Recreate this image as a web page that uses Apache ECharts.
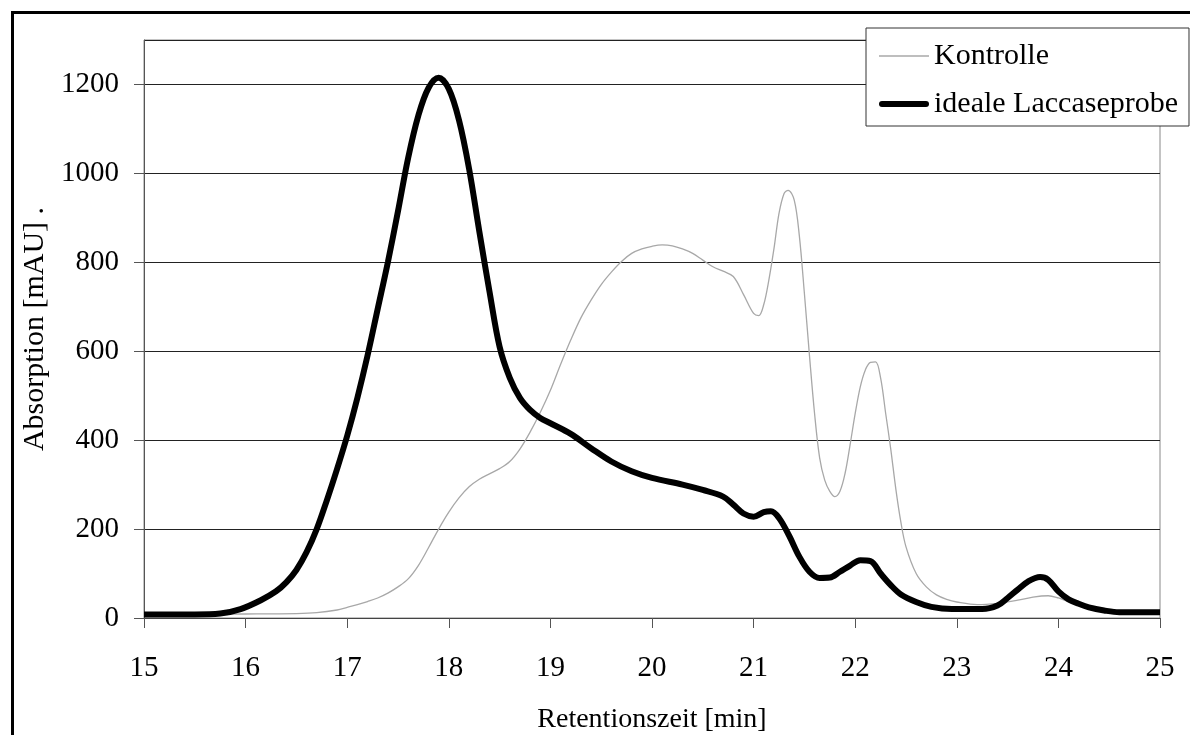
<!DOCTYPE html>
<html>
<head>
<meta charset="utf-8">
<script src="https://cdn.jsdelivr.net/npm/echarts@6/dist/echarts.min.js"></script>
<style>
html,body{margin:0;padding:0;background:#fff;}
#chart{width:1190px;height:735px;}
</style>
</head>
<body>
<div id="chart"></div>
<script>
// Retention time [min] and absorption [mAU]
const seriesNames = ['Kontrolle', 'ideale Laccaseprobe'];

const kontrolleTime = [15.0,16.0,16.5,16.7,16.9,17.0,17.1,17.2,17.3,17.4,17.5,17.6,17.7,17.8,17.9,18.0,18.1,18.2,18.3,18.4,18.5,18.6,18.7,18.8,18.9,19.0,19.1,19.2,19.3,19.4,19.5,19.6,19.7,19.8,19.9,20.0,20.1,20.2,20.3,20.4,20.5,20.6,20.7,20.8,20.9,21.0,21.05,21.1,21.15,21.2,21.25,21.3,21.34,21.4,21.45,21.5,21.55,21.6,21.65,21.7,21.75,21.8,21.85,21.9,21.95,22.0,22.05,22.1,22.15,22.2,22.25,22.3,22.35,22.4,22.45,22.5,22.6,22.7,22.8,22.9,23.0,23.2,23.4,23.6,23.75,23.9,24.0,24.1,24.3,24.6,25.0];
const kontrolleValue = [8,9,10,12,18,24,30,37,45,56,70,88,118,158,200,238,270,295,312,324,336,352,380,418,462,512,570,625,675,715,750,778,802,820,830,836,839,837,830,820,805,790,780,768,728,685,680,705,760,830,910,955,962,940,860,730,590,460,360,310,285,273,285,325,390,460,520,558,575,576,540,460,380,290,215,160,100,70,52,42,36,30,33,40,47,50,45,37,25,16,14];

const laccaseTime = [15.0,15.5,15.75,15.95,16.15,16.3,16.4,16.5,16.6,16.7,16.8,16.9,17.0,17.1,17.2,17.3,17.4,17.5,17.6,17.7,17.8,17.9,18.0,18.1,18.2,18.3,18.4,18.5,18.6,18.7,18.8,18.9,19.0,19.2,19.4,19.6,19.8,20.0,20.3,20.5,20.7,20.8,20.9,21.0,21.1,21.17,21.25,21.35,21.45,21.55,21.65,21.75,21.85,21.95,22.05,22.15,22.25,22.35,22.45,22.6,22.75,22.95,23.25,23.4,23.5,23.6,23.7,23.82,23.9,24.0,24.1,24.2,24.3,24.45,24.6,25.0];
const laccaseValue = [8,8,10,20,40,60,80,108,148,200,265,335,410,495,590,695,800,915,1035,1130,1192,1215,1190,1120,1010,870,735,610,540,495,468,450,438,414,382,352,330,315,300,288,273,255,235,228,238,240,225,185,138,104,90,91,104,118,130,128,100,74,53,36,25,20,20,28,45,64,82,92,86,60,42,32,24,17,13,13];

const xTicks = {min: 15, max: 25, interval: 1};
const yTicks = {min: 0, max: 1300, interval: 200};

function pairs(t, v) { return t.map((x, i) => [x, v[i]]); }

const chart = echarts.init(document.getElementById('chart'), null, {renderer: 'canvas'});
const FONT = 'Liberation Serif';

chart.setOption({
  animation: false,
  backgroundColor: '#ffffff',
  textStyle: {fontFamily: FONT, color: '#000'},
  graphic: [{
    type: 'rect', left: 10, top: 10, z: -10, silent: true,
    shape: {x: 0, y: 0, width: 1300, height: 900},
    style: {fill: 'none', stroke: '#000', lineWidth: 3}
  }],
  grid: {left: 144, right: 30, top: 40, bottom: 117, show: true, borderColor: '#888', borderWidth: 1,
    backgroundColor: 'transparent', containLabel: false, outerBoundsMode: 'none'},
  legend: {
    orient: 'vertical', left: 866, top: 28,
    padding: [12, 11, 6, 13],
    itemWidth: 50, itemHeight: 14, itemGap: 16, itemSymbolKeepAspect: true,
    backgroundColor: '#fff', borderColor: '#333', borderWidth: 1,
    textStyle: {fontFamily: FONT, fontSize: 30, color: '#000', lineHeight: 32},
    data: [
      {name: seriesNames[0], icon: 'path://M0,0H50V1.3H0Z'},
      {name: seriesNames[1], icon: 'path://M3,0H47A3,3 0 0 1 47,6H3A3,3 0 0 1 3,0Z'}
    ]
  },
  xAxis: {
    type: 'value', min: xTicks.min, max: xTicks.max, interval: xTicks.interval,
    name: 'Retentionszeit [min]', nameLocation: 'middle', nameGap: 88,
    nameTextStyle: {fontFamily: FONT, fontSize: 28, color: '#000'},
    axisLine: {show: true, lineStyle: {color: '#444', width: 1}},
    axisTick: {show: true, inside: false, length: 10, lineStyle: {color: '#555'}},
    axisLabel: {fontFamily: FONT, fontSize: 29, color: '#000', margin: 36},
    splitLine: {show: false}
  },
  yAxis: {
    type: 'value', min: yTicks.min, max: yTicks.max, interval: yTicks.interval,
    name: 'Absorption [mAU] .', nameLocation: 'middle', nameGap: 80, nameRotate: 90,
    nameTextStyle: {fontFamily: FONT, fontSize: 30, color: '#000'},
    axisLine: {show: true, lineStyle: {color: '#555', width: 1}},
    axisTick: {show: true, inside: false, length: 10, lineStyle: {color: '#555'}},
    axisLabel: {fontFamily: FONT, fontSize: 29, color: '#000', margin: 25, showMaxLabel: false,
      formatter: function (v) { return String(v); }},
    splitLine: {show: true, lineStyle: {color: '#222', width: 1}}
  },
  series: [
    {
      name: seriesNames[0], type: 'line', data: pairs(kontrolleTime, kontrolleValue),
      symbol: 'none', smooth: 0.35, z: 2,
      lineStyle: {color: '#a8a8a8', width: 1.3},
      itemStyle: {color: '#a8a8a8'}
    },
    {
      name: seriesNames[1], type: 'line', data: pairs(laccaseTime, laccaseValue),
      symbol: 'none', smooth: 0.35, z: 3,
      lineStyle: {color: '#000', width: 6},
      itemStyle: {color: '#000'}
    }
  ]
});
</script>
</body>
</html>
